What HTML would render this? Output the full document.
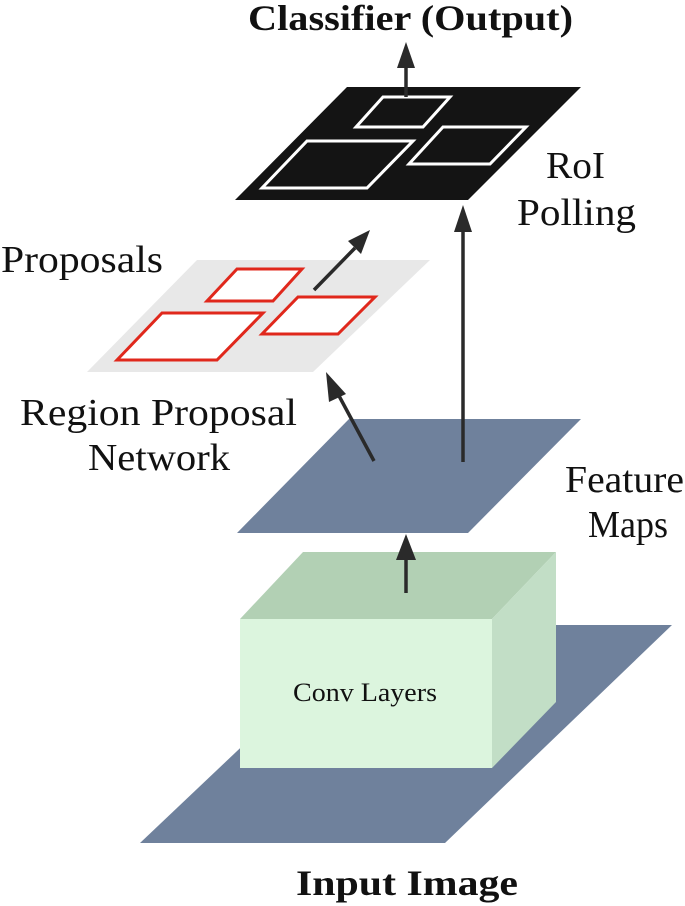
<!DOCTYPE html>
<html><head><meta charset="utf-8"><style>
html,body{margin:0;padding:0;background:#fff;}
svg{display:block;}
text{font-family:"Liberation Serif",serif;fill:#111;}
</style></head><body>
<svg width="685" height="906" viewBox="0 0 685 906" xmlns="http://www.w3.org/2000/svg">
<!-- input plane -->
<polygon points="370,625 672,625 445,843 140,843" fill="#6f819c"/>
<!-- cube -->
<polygon points="303,552 556,552 492,619 240,619" fill="#b2d0b4"/>
<polygon points="492,619 556,552 556,702 492,768" fill="#c2dec6"/>
<rect x="240" y="619" width="252" height="149" fill="#dcf5de"/>
<text x="293" y="701" font-size="26" textLength="144" lengthAdjust="spacingAndGlyphs">Conv Layers</text>
<!-- conv arrow -->
<line x1="406" y1="593" x2="406" y2="545" stroke="#2a2a2a" stroke-width="3.5"/>
<path d="M396,560 L406,534 L416,560 Z" fill="#2a2a2a"/>
<!-- feature plane -->
<polygon points="349,419 581,419 468,533 237,533" fill="#6f819c"/>
<!-- gray plane -->
<polygon points="197,260 430,260 313,372 87,372" fill="#e8e8e8"/>
<polygon points="237,269 302,269 273,301 207,301" fill="#fff" stroke="#e0281c" stroke-width="3"/>
<polygon points="162,313 263,313 217,360 117,360" fill="#fff" stroke="#e0281c" stroke-width="3"/>
<polygon points="298,297 375,297 338,334 262,334" fill="#fff" stroke="#e0281c" stroke-width="3"/>
<!-- black plane -->
<polygon points="347,87 581,87 468,200 235,200" fill="#141414"/>
<polygon points="383,97 450,97 423,127 356,127" fill="none" stroke="#fff" stroke-width="3"/>
<polygon points="307,141 413,141 367,188 262,188" fill="none" stroke="#fff" stroke-width="3"/>
<polygon points="443,127 526,127 490,164 409,164" fill="none" stroke="#fff" stroke-width="3"/>
<!-- arrows -->
<line x1="406" y1="97" x2="406" y2="62" stroke="#2a2a2a" stroke-width="3.5"/>
<path d="M397,68 L406,42 L415,68 Z" fill="#2a2a2a"/>
<line x1="463" y1="462" x2="463" y2="225" stroke="#2a2a2a" stroke-width="3.5"/>
<path d="M454,232 L463,205 L472,232 Z" fill="#2a2a2a"/>
<line x1="374" y1="461" x2="338" y2="394" stroke="#2a2a2a" stroke-width="3.5"/>
<path d="M329,402 L326,372 L346,394 Z" fill="#2a2a2a"/>
<line x1="314" y1="290" x2="355" y2="248" stroke="#2a2a2a" stroke-width="3.5"/>
<path d="M348,241 L370,230 L361,254 Z" fill="#2a2a2a"/>
<!-- labels -->
<text x="248" y="30" font-size="36" font-weight="bold" textLength="325" lengthAdjust="spacingAndGlyphs">Classifier (Output)</text>
<text x="546" y="178" font-size="38" textLength="59" lengthAdjust="spacingAndGlyphs">RoI</text>
<text x="517" y="225" font-size="38" textLength="119" lengthAdjust="spacingAndGlyphs">Polling</text>
<text x="1" y="272" font-size="38" textLength="162" lengthAdjust="spacingAndGlyphs">Proposals</text>
<text x="20" y="425" font-size="38" textLength="277" lengthAdjust="spacingAndGlyphs">Region Proposal</text>
<text x="88" y="470" font-size="38" textLength="142" lengthAdjust="spacingAndGlyphs">Network</text>
<text x="565" y="492" font-size="38" textLength="119" lengthAdjust="spacingAndGlyphs">Feature</text>
<text x="588" y="537" font-size="38" textLength="80" lengthAdjust="spacingAndGlyphs">Maps</text>
<text x="296" y="895" font-size="36" font-weight="bold" textLength="222" lengthAdjust="spacingAndGlyphs">Input Image</text>
</svg>
</body></html>
